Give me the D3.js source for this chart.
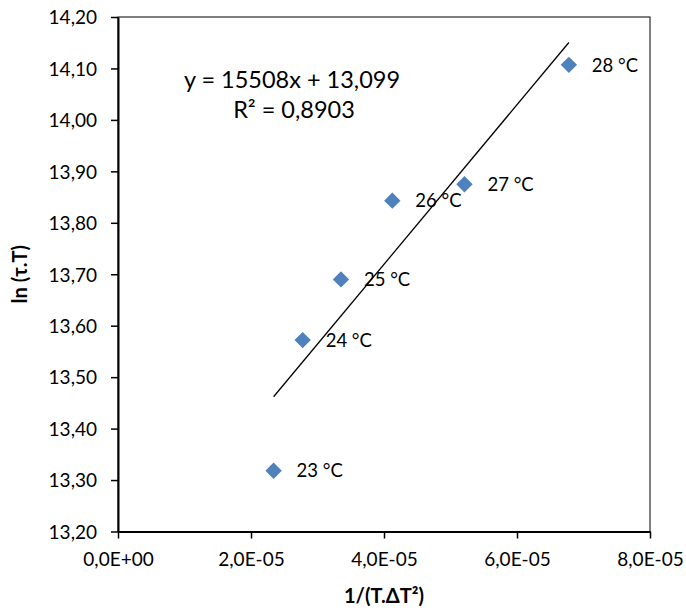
<!DOCTYPE html>
<html>
<head>
<meta charset="utf-8">
<script src="https://cdn.jsdelivr.net/npm/d3@7"></script>
<style>
  html, body { margin: 0; padding: 0; background: #fff; }
  svg text { font-family: Lato, "Open Sans", sans-serif; fill: #000; }
</style>
</head>
<body>
<svg id="chart" width="686" height="613"></svg>
<script>
// ---- data ----
const labels = ["23 °C", "24 °C", "25 °C", "26 °C", "27 °C", "28 °C"];
const xValues = [2.34e-5, 2.777e-5, 3.353e-5, 4.125e-5, 5.21e-5, 6.78e-5];
const yValues = [13.318, 13.572, 13.690, 13.843, 13.875, 14.107];
const slope = 15508;
const intercept = 13.099;
const equationText = "y = 15508x + 13,099";
const r2Text = "R² = 0,8903";
const xTicks = [0, 2e-5, 4e-5, 6e-5, 8e-5];
const yTicks = [13.2, 13.3, 13.4, 13.5, 13.6, 13.7, 13.8, 13.9, 14.0, 14.1, 14.2];
const xTitle = "1/(T.ΔT²)";
const yTitle = "ln (τ.T)";

// ---- layout ----
const svg = d3.select("#chart");
const L = 118, R = 650, T = 17, B = 531.5;
const x = d3.scaleLinear().domain([0, 8e-5]).range([L, R]);
const y = d3.scaleLinear().domain([13.2, 14.2]).range([B, T]);

const fmtX = v => {
  const s = v.toExponential(1); // e.g. "2.0e-5"
  const [m, e] = s.split("e");
  const ei = parseInt(e, 10);
  const sign = ei < 0 ? "-" : "+";
  const ea = String(Math.abs(ei)).padStart(2, "0");
  return m.replace(".", ",") + "E" + sign + ea;
};
const fmtY = v => d3.format(".2f")(v).replace(".", ",");

// frame (top & right thin)
svg.append("rect")
  .attr("x", L).attr("y", T).attr("width", R - L).attr("height", B - T)
  .attr("fill", "none").attr("stroke", "#000").attr("stroke-width", 1);

// y axis
const gy = svg.append("g").attr("transform", `translate(${L},0)`)
  .call(d3.axisLeft(y).tickValues(yTicks).tickFormat(fmtY).tickSizeOuter(0).tickSizeInner(7).tickPadding(14));
gy.select(".domain").attr("stroke", "#000").attr("stroke-width", 2);
gy.selectAll(".tick line").attr("stroke", "#000").attr("stroke-width", 1.5);
gy.selectAll(".tick text").attr("font-size", 19).attr("font-family", "Lato").attr("fill", "#000").attr("dy", "0.36em");

// x axis
const gx = svg.append("g").attr("transform", `translate(0,${B})`)
  .call(d3.axisBottom(x).tickValues(xTicks).tickFormat(fmtX).tickSizeOuter(0).tickSizeInner(7).tickPadding(14));
gx.select(".domain").attr("stroke", "#000").attr("stroke-width", 2);
gx.selectAll(".tick line").attr("stroke", "#000").attr("stroke-width", 1.5);
gx.selectAll(".tick text").attr("font-size", 19).attr("font-family", "Lato").attr("fill", "#000");

// trendline
const x0 = d3.min(xValues), x1 = d3.max(xValues);
svg.append("line")
  .attr("x1", x(x0)).attr("y1", y(intercept + slope * x0))
  .attr("x2", x(x1)).attr("y2", y(intercept + slope * x1))
  .attr("stroke", "#000").attr("stroke-width", 1.3);

// points
const pts = xValues.map((v, i) => ({ x: v, y: yValues[i], label: labels[i] }));
svg.append("g").selectAll("path").data(pts).enter().append("path")
  .attr("d", d3.symbol().type(d3.symbolDiamond2).size(170))
  .attr("transform", d => `translate(${x(d.x)},${y(d.y)})`)
  .attr("fill", "#4F81BD");

// point labels
svg.append("g").selectAll("text").data(pts).enter().append("text")
  .attr("x", d => x(d.x) + 23).attr("y", d => y(d.y))
  .attr("dy", "0.36em").attr("font-size", 18.5)
  .text(d => d.label);

// equation
svg.append("text").attr("x", 292).attr("y", 88).attr("text-anchor", "middle")
  .attr("font-size", 23.5).text(equationText);
svg.append("text").attr("x", 294).attr("y", 118).attr("text-anchor", "middle")
  .attr("font-size", 23.5).text(r2Text);

// axis titles
svg.append("text").attr("x", (L + R) / 2).attr("y", 603).attr("text-anchor", "middle")
  .attr("font-size", 20).attr("font-weight", "bold").text(xTitle);
svg.append("text").attr("transform", `translate(27,${(T + B) / 2}) rotate(-90)`)
  .attr("text-anchor", "middle").attr("font-size", 20).attr("font-weight", "bold").text(yTitle);
</script>
</body>
</html>
